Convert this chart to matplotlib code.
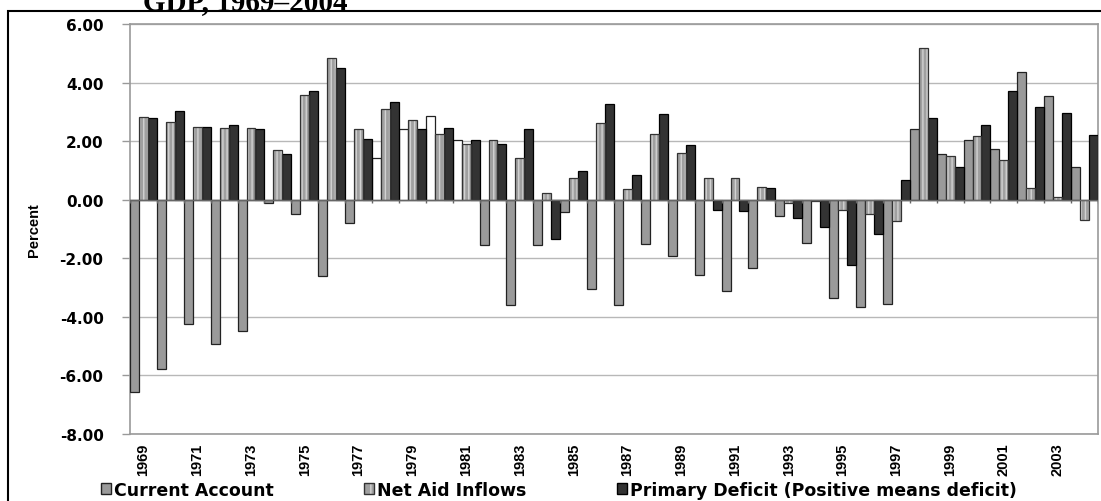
"""
    Current account, net aid inflows and primary deficit as a share of GDP, 1969-2004
"""

import matplotlib
matplotlib.use("Agg")
import matplotlib.pyplot as plt
import numpy as np
from matplotlib.patches import Patch, Rectangle

# data (percent of GDP)
years = list(range(1969, 2005))
current_account = [-6.56, -5.77, -4.24, -4.94, -4.49, -0.11, -0.48, -2.62, -0.80,
                   1.42, 2.40, 2.86, 2.05,
                   -1.54, -3.60, -1.56, -0.42, -3.04, -3.60, -1.52, -1.92,
                   -2.56, -3.12, -2.33, -0.57, -1.48, -3.36, -3.66, -3.57,
                   2.42, 1.57, 2.03, 1.74, 4.36, 3.53, 1.12]
net_aid = [2.82, 2.65, 2.50, 2.45, 2.45, 1.71, 3.59, 4.85, 2.42,
           3.10, 2.71, 2.25, 1.89,
           2.03, 1.42, 0.23, 0.74, 2.62, 0.37, 2.25, 1.60,
           0.74, 0.74, 0.42, -0.10, -0.06, -0.36, -0.48, -0.73,
           5.19, 1.48, 2.17, 1.34, 0.41, 0.09, -0.70]
primary_deficit = [2.80, 3.03, 2.50, 2.56, 2.42, 1.57, 3.71, 4.49, 2.08,
                   3.33, 2.40, 2.45, 2.03,
                   1.91, 2.40, -1.35, 0.97, 3.28, 0.83, 2.93, 1.88,
                   -0.36, -0.39, 0.40, -0.62, -0.93, -2.22, -1.16, 0.68,
                   2.80, 1.12, 2.56, 3.70, 3.18, 2.96, 2.22]
# current account bars left unfilled in these years
ca_open_years = [1978, 1979, 1980, 1981]
y_ticks = [-8, -6, -4, -2, 0, 2, 4, 6]
labels = ["Current Account", "Net Aid Inflows", "Primary Deficit (Positive means deficit)"]

narrow = ["Liberation Sans Narrow", "Liberation Sans", "DejaVu Sans"]
plt.rcParams['hatch.linewidth'] = 1.0

fig = plt.figure(figsize=(11.01, 5.02), dpi=100)
ax = fig.add_axes([130 / 1101, 67 / 502, 968 / 1101, 410 / 502])

x = np.arange(len(years))
w = 1 / 3
ca_colors = ['white' if y in ca_open_years else '#9a9a9a' for y in years]

ax.bar(x - w, current_account, w, color=ca_colors, edgecolor='#222222', linewidth=0.9, zorder=3)
# striped fill first, then the outline on top
ax.bar(x, net_aid, w, color='#a0a0a0', edgecolor='#d2d2d2', hatch='||||', linewidth=0, zorder=3)
ax.bar(x, net_aid, w, fill=False, edgecolor='#333333', linewidth=0.9, zorder=4)
ax.bar(x + w, primary_deficit, w, color='#333333', edgecolor='black', linewidth=0.9, zorder=3)

# category axis crossing at zero, with a tick between years
ax.axhline(0, color='#666666', lw=1, zorder=5)
ax.vlines(np.arange(len(years) + 1) - 0.5, -0.12, 0, color='#666666', lw=1, zorder=5)

ax.set_xlim(-0.5, len(years) - 0.5)
ax.set_ylim(-8, 6)
ax.set_yticks(y_ticks)
ax.set_yticklabels([f"{v:.2f}" for v in y_ticks], fontfamily='DejaVu Sans', fontweight='bold', fontsize=11)
ax.set_xticks(x[::2])
ax.set_xticklabels([str(y) for y in years[::2]], rotation=90, family=narrow,
                   fontweight='bold', fontsize=10.5)
ax.tick_params(axis='x', length=0, pad=6)
ax.tick_params(axis='y', length=6, width=1, color='#999999', pad=13)

ax.yaxis.grid(True, color='#b8b8b8', lw=1)
ax.set_axisbelow(True)
for s in ax.spines.values():
    s.set_color('#9a9a9a')
    s.set_linewidth(1.2)

ax.set_ylabel("Percent", family=narrow, fontweight='bold', fontsize=10.5)
ax.yaxis.set_label_coords(-0.092, 0.5)

# title, partly above the frame
fig.text(143 / 1101, 1 - 10 / 502, "GDP, 1969\u20132004", fontfamily='Liberation Serif',
         fontweight='bold', fontsize=21, va='baseline')
fig.add_artist(Rectangle((8 / 1101, -0.05), 1.2, (502 - 12) / 502 + 0.05,
                         transform=fig.transFigure, fill=False, edgecolor='black', lw=1.5))

handles = [Patch(facecolor='#9a9a9a', edgecolor='#222222'),
           (Patch(facecolor='#a0a0a0', edgecolor='#d2d2d2', hatch='||', lw=0),
            Patch(fill=False, edgecolor='#333333')),
           Patch(facecolor='#333333', edgecolor='black')]
fig.legend(handles, labels, loc='center left', bbox_to_anchor=(101 / 1101, 11 / 502), ncol=3,
           frameon=False, prop=dict(family='DejaVu Sans', weight='bold', size=12.5),
           handlelength=0.6, handleheight=0.6, handletextpad=0.15, columnspacing=5.2,
           borderpad=0, borderaxespad=0)

fig.savefig("out.png", dpi=100)
